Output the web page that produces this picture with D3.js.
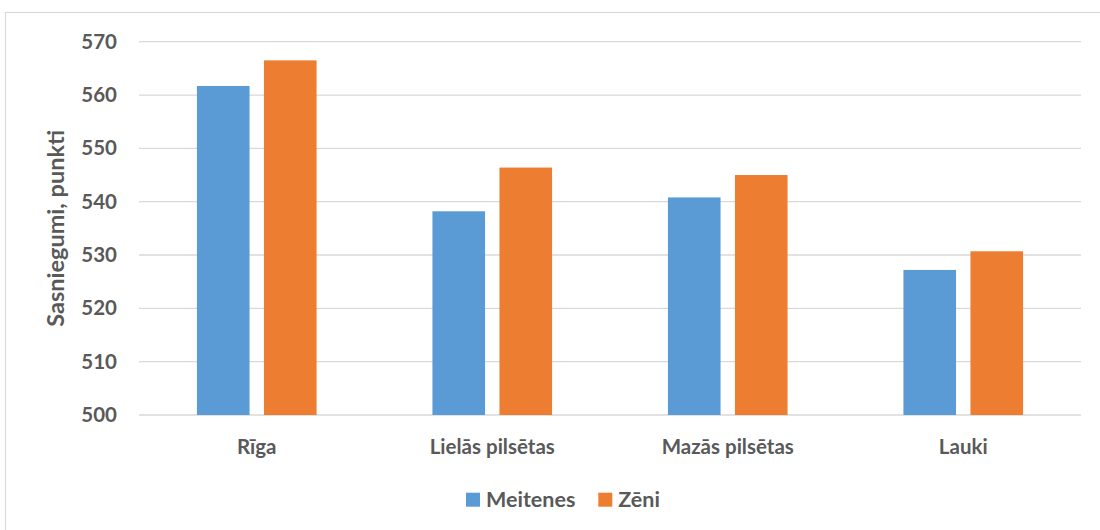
<!DOCTYPE html>
<html>
<head>
<meta charset="utf-8">
<script src="https://cdn.jsdelivr.net/npm/d3@7"></script>
<style>
  html, body { margin: 0; padding: 0; background: #fff; }
  svg { display: block; }
  text { font-family: Lato, "Open Sans", sans-serif; font-weight: bold; fill: #595959; }
</style>
</head>
<body>
<svg id="chart" width="1100" height="530"></svg>
<script>
const categories = ["Rīga", "Lielās pilsētas", "Mazās pilsētas", "Lauki"];
const seriesNames = ["Meitenes", "Zēni"];
const meitenes = [561.7, 538.2, 540.8, 527.2];
const zeni = [566.5, 546.4, 545.0, 530.7];
const yTicks = [500, 510, 520, 530, 540, 550, 560, 570];
const colors = ["#5B9BD5", "#ED7D31"];

const svg = d3.select("#chart");
const margin = { left: 139, right: 19, top: 41.7, bottom: 115 };
const W = 1100, H = 530;
const plotW = W - margin.left - margin.right;
const plotH = H - margin.top - margin.bottom;

// chart border (cut off at right and bottom like reference)
svg.append("rect")
  .attr("x", 5.5).attr("y", 12.5)
  .attr("width", 1200).attr("height", 600)
  .attr("fill", "none").attr("stroke", "#d9d9d9").attr("stroke-width", 1.2);

const g = svg.append("g").attr("transform", `translate(${margin.left},${margin.top})`);

const x0 = d3.scaleBand().domain(categories).range([0, plotW]).paddingInner(0).paddingOuter(0);
const y = d3.scaleLinear().domain([500, 570]).range([plotH, 0]);

// gridlines
g.append("g").selectAll("line").data(yTicks).join("line")
  .attr("x1", 0).attr("x2", plotW)
  .attr("y1", d => y(d)).attr("y2", d => y(d))
  .attr("stroke", "#d9d9d9").attr("stroke-width", 1.3);

// y axis labels
const yAxis = d3.axisLeft(y).tickValues(yTicks).tickSize(0).tickPadding(22);
const ya = g.append("g").call(yAxis);
ya.select(".domain").remove();
ya.selectAll("text").style("font-size", "20.5px").attr("fill", "#595959")
  .style("font-family", "Lato, 'Open Sans', sans-serif").style("font-weight", "bold");

// bars
const bw = x0.bandwidth();
const barW = bw * 0.2234;
const innerGap = bw * 0.0612;
const groupW = 2 * barW + innerGap;
const x1 = d3.scaleOrdinal().domain(seriesNames).range([0, barW + innerGap]);
const data = categories.map((c, i) => ({ cat: c, vals: [
  { s: seriesNames[0], v: meitenes[i] },
  { s: seriesNames[1], v: zeni[i] }
]}));
const groups = g.append("g").selectAll("g").data(data).join("g")
  .attr("transform", d => `translate(${x0(d.cat) + (bw - groupW) / 2},0)`);
groups.selectAll("rect").data(d => d.vals).join("rect")
  .attr("x", d => x1(d.s))
  .attr("width", barW)
  .attr("y", d => y(d.v))
  .attr("height", d => y(500) - y(d.v))
  .attr("fill", (d, i) => colors[i]);

// x axis labels
const xAxis = d3.axisBottom(x0).tickSize(0).tickPadding(24);
const xa = g.append("g").attr("transform", `translate(0,${plotH})`).call(xAxis);
xa.select(".domain").remove();
xa.selectAll("text").style("font-size", "20.5px").attr("fill", "#595959")
  .style("font-family", "Lato, 'Open Sans', sans-serif").style("font-weight", "bold");

// y axis title
svg.append("text")
  .attr("transform", `translate(64,${margin.top + plotH / 2}) rotate(-90)`)
  .attr("text-anchor", "middle")
  .style("font-size", "23.5px")
  .text("Sasniegumi, punkti");

// legend
const legend = svg.append("g");
const legendItems = [
  { name: seriesNames[0], color: colors[0], x: 466 },
  { name: seriesNames[1], color: colors[1], x: 598.3 }
];
legendItems.forEach(it => {
  legend.append("rect").attr("x", it.x).attr("y", 492.7).attr("width", 14).attr("height", 14).attr("fill", it.color);
  legend.append("text").attr("x", it.x + 20).attr("y", 506.7).style("font-size", "21.5px").text(it.name);
});
</script>
</body>
</html>
